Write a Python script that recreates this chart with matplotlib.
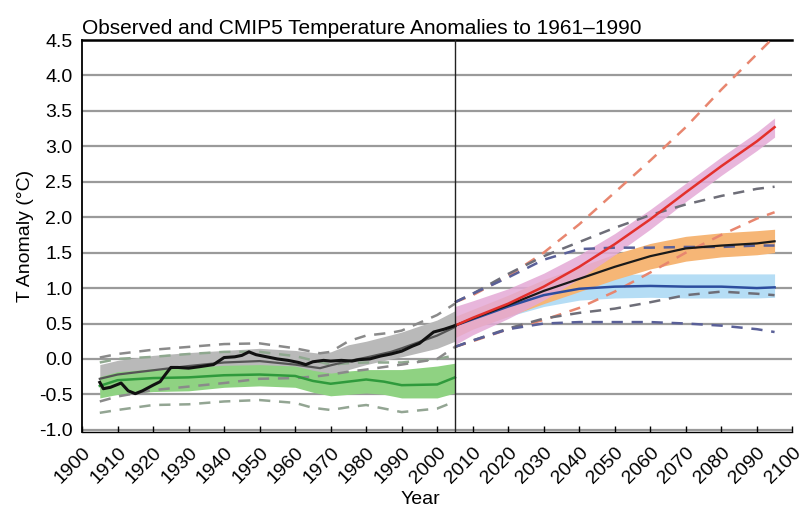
import matplotlib
matplotlib.use('Agg')
import matplotlib.pyplot as plt
import numpy as np

plt.rcParams['font.family'] = ['Liberation Sans', 'DejaVu Sans']

# observed series
obs_years = [1905, 1906, 1908, 1911, 1913, 1915, 1917, 1920, 1922, 1923, 1925, 1927, 1930, 1933,
             1937, 1940, 1943, 1945, 1947, 1949, 1952, 1955, 1958, 1961, 1963, 1965, 1968, 1970,
             1973, 1976, 1978, 1981, 1984, 1987, 1990, 1993, 1995, 1997, 1999, 2002, 2005]
obs_vals = [-0.33, -0.42, -0.40, -0.34, -0.45, -0.49, -0.45, -0.37, -0.32, -0.25, -0.12, -0.12, -0.13, -0.11,
            -0.08, 0.02, 0.03, 0.05, 0.10, 0.06, 0.03, 0.00, -0.02, -0.05, -0.08, -0.04, -0.02, -0.03,
            -0.02, -0.03, -0.01, 0.00, 0.04, 0.07, 0.11, 0.18, 0.22, 0.30, 0.38, 0.42, 0.47]

# historical all-forcing model
hist_years = [1905, 1910, 1920, 1930, 1940, 1950, 1960, 1967, 1970, 1975, 1980, 1987, 1990, 2000, 2005]
hist_mean = [-0.28, -0.22, -0.16, -0.10, -0.05, -0.03, -0.08, -0.13, -0.09, -0.03, 0.02, 0.10, 0.15, 0.33, 0.45]
hist_hi = [-0.08, -0.02, 0.05, 0.09, 0.12, 0.15, 0.12, 0.08, 0.10, 0.20, 0.25, 0.34, 0.38, 0.55, 0.68]
hist_lo = [-0.50, -0.45, -0.38, -0.31, -0.25, -0.20, -0.25, -0.32, -0.28, -0.15, -0.08, 0.00, 0.03, 0.15, 0.25]
hist_dash_hi = [0.02, 0.07, 0.13, 0.17, 0.21, 0.22, 0.15, 0.08, 0.10, 0.25, 0.33, 0.37, 0.40, 0.62, 0.78]
hist_dash_lo = [-0.60, -0.53, -0.44, -0.39, -0.34, -0.28, -0.27, -0.24, -0.22, -0.18, -0.15, -0.10, -0.08, 0.00, 0.17]

# natural-only model
nat_years = [1905, 1910, 1920, 1930, 1940, 1950, 1960, 1965, 1970, 1975, 1980, 1985, 1990, 2000, 2005]
nat_mean = [-0.38, -0.30, -0.27, -0.26, -0.23, -0.22, -0.24, -0.31, -0.35, -0.32, -0.29, -0.32, -0.37, -0.36, -0.26]
nat_hi = [-0.25, -0.18, -0.14, -0.12, -0.09, -0.08, -0.10, -0.16, -0.20, -0.17, -0.15, -0.15, -0.15, -0.10, -0.06]
nat_lo = [-0.55, -0.50, -0.46, -0.45, -0.40, -0.38, -0.40, -0.47, -0.52, -0.50, -0.48, -0.50, -0.55, -0.55, -0.48]
nat_dash_hi = [-0.05, 0.00, 0.03, 0.07, 0.10, 0.10, 0.04, -0.02, -0.08, -0.06, -0.05, -0.05, -0.05, 0.00, 0.05]
nat_dash_lo = [-0.76, -0.72, -0.65, -0.64, -0.60, -0.58, -0.62, -0.69, -0.72, -0.68, -0.65, -0.70, -0.75, -0.70, -0.60]

# projections
fut_years = [2005, 2010, 2020, 2030, 2040, 2050, 2060, 2070, 2080, 2090, 2095]
rcp85 = [0.47, 0.58, 0.78, 1.02, 1.30, 1.62, 1.97, 2.35, 2.72, 3.07, 3.27]
rcp85_hi = [0.74, 0.82, 0.99, 1.21, 1.47, 1.77, 2.11, 2.48, 2.85, 3.20, 3.40]
rcp85_lo = [0.20, 0.34, 0.57, 0.83, 1.13, 1.47, 1.83, 2.22, 2.59, 2.94, 3.13]
rcp85_dash_hi = [0.80, 0.90, 1.17, 1.50, 1.90, 2.35, 2.80, 3.27, 3.80, 4.30, 4.55]
rcp85_dash_lo = [0.17, 0.25, 0.42, 0.55, 0.72, 0.95, 1.22, 1.50, 1.75, 1.98, 2.07]

rcp45 = [0.47, 0.57, 0.76, 0.96, 1.13, 1.30, 1.45, 1.56, 1.60, 1.63, 1.66]
rcp45_hi = [0.60, 0.70, 0.90, 1.12, 1.30, 1.48, 1.63, 1.73, 1.78, 1.81, 1.83]
rcp45_lo = [0.30, 0.42, 0.60, 0.78, 0.95, 1.12, 1.27, 1.38, 1.44, 1.47, 1.50]
rcp45_dash_hi = [0.80, 0.92, 1.20, 1.45, 1.65, 1.85, 2.03, 2.18, 2.30, 2.40, 2.43]
rcp45_dash_lo = [0.17, 0.26, 0.43, 0.57, 0.65, 0.71, 0.80, 0.90, 0.95, 0.92, 0.90]

rcp26 = [0.47, 0.56, 0.74, 0.90, 0.99, 1.02, 1.03, 1.02, 1.02, 1.00, 1.01]
rcp26_hi = [0.58, 0.68, 0.88, 1.05, 1.15, 1.19, 1.20, 1.20, 1.20, 1.20, 1.20]
rcp26_lo = [0.35, 0.44, 0.60, 0.74, 0.83, 0.86, 0.87, 0.86, 0.86, 0.86, 0.87]
rcp26_dash_hi = [0.80, 0.92, 1.15, 1.40, 1.55, 1.57, 1.57, 1.58, 1.58, 1.60, 1.60]
rcp26_dash_lo = [0.17, 0.26, 0.42, 0.50, 0.52, 0.52, 0.52, 0.50, 0.47, 0.42, 0.38]

yticks = [-1.0, -0.5, 0.0, 0.5, 1.0, 1.5, 2.0, 2.5, 3.0, 3.5, 4.0, 4.5]
xticks = list(range(1900, 2101, 10))

fig = plt.figure(figsize=(8.09, 5.13), dpi=100)
ax = fig.add_axes([0.1014, 0.158, 0.878, 0.764])

for y in yticks:
    ax.axhline(y, color='#9a9a9a', lw=1.6, zorder=0)

dash = (0, (4.5, 3.5))

# historical
ax.fill_between(hist_years, hist_lo, hist_hi, color='#b9b9b9', lw=0, zorder=1)
ax.fill_between(nat_years, nat_lo, nat_hi, color='#8fd282', lw=0, zorder=2)
ax.plot(hist_years, hist_dash_hi, color='#8a8a8a', lw=1.8, ls=dash, zorder=3)
ax.plot(hist_years, hist_dash_lo, color='#8a8a8a', lw=1.8, ls=dash, zorder=3)
ax.plot(nat_years, nat_dash_hi, color='#8fa88f', lw=1.8, ls=dash, zorder=1.5)
ax.plot(nat_years, nat_dash_lo, color='#93a593', lw=1.8, ls=dash, zorder=3)
ax.plot(nat_years, nat_mean, color='#2f9a3c', lw=1.8, zorder=4)
ax.plot(hist_years, hist_mean, color='#555555', lw=1.6, zorder=4)
ax.plot(obs_years, obs_vals, color='#111111', lw=2.2, zorder=5)

# projections
ax.fill_between(fut_years, rcp26_lo, rcp26_hi, color='#b5ddf5', lw=0, zorder=1)
ax.fill_between(fut_years, rcp45_lo, rcp45_hi, color='#f6b676', lw=0, zorder=1.2)
ax.fill_between(fut_years, rcp85_lo, rcp85_hi, color='#e4aad6', lw=0, alpha=0.85, zorder=1.4)
ax.plot(fut_years, rcp85_dash_hi, color='#e8866f', lw=1.8, ls=dash, zorder=3)
ax.plot(fut_years, rcp85_dash_lo, color='#e8866f', lw=1.8, ls=dash, zorder=3)
ax.plot(fut_years, rcp45_dash_hi, color='#6e6e78', lw=1.8, ls=dash, zorder=3)
ax.plot(fut_years, rcp45_dash_lo, color='#6e6e78', lw=1.8, ls=dash, zorder=3)
ax.plot(fut_years, rcp26_dash_hi, color='#5a6098', lw=1.8, ls=dash, zorder=3)
ax.plot(fut_years, rcp26_dash_lo, color='#5a6098', lw=1.8, ls=dash, zorder=3)
ax.plot(fut_years, rcp26, color='#2d4d9e', lw=1.8, zorder=4)
ax.plot(fut_years, rcp45, color='#1a1a1a', lw=1.6, zorder=4)
ax.plot(fut_years, rcp85, color='#e3302b', lw=1.8, zorder=4)

ax.axvline(2005, color='#222222', lw=1.0, zorder=6)

ax.set_xlim(1900, 2100)
ax.set_ylim(-1.03, 4.5)
ax.set_yticks(yticks)
ax.set_yticklabels(['%.1f' % v if v >= 0 else '-%.1f' % abs(v) for v in yticks], fontsize=14)
ax.set_xticks(xticks)
ax.set_xticklabels([str(x) for x in xticks], rotation=45, ha='right', rotation_mode='anchor', fontsize=14)
ax.tick_params(axis='x', direction='in', length=4, width=1, pad=9)
ax.tick_params(axis='y', length=0, pad=7)

ax.spines['right'].set_visible(False)
ax.spines['top'].set_linewidth(1.8)
ax.spines['left'].set_linewidth(1.3)
ax.spines['bottom'].set_linewidth(1.0)

ax.set_title('Observed and CMIP5 Temperature Anomalies to 1961\u20131990', loc='left', fontsize=15, pad=4)
ax.set_xlabel('Year', fontsize=14)
ax.xaxis.set_label_coords(0.476, -0.15)
ax.set_ylabel('T Anomaly (\u00b0C)', fontsize=14)
ax.yaxis.set_label_coords(-0.068, 0.5)

fig.savefig('out.png', dpi=100)
